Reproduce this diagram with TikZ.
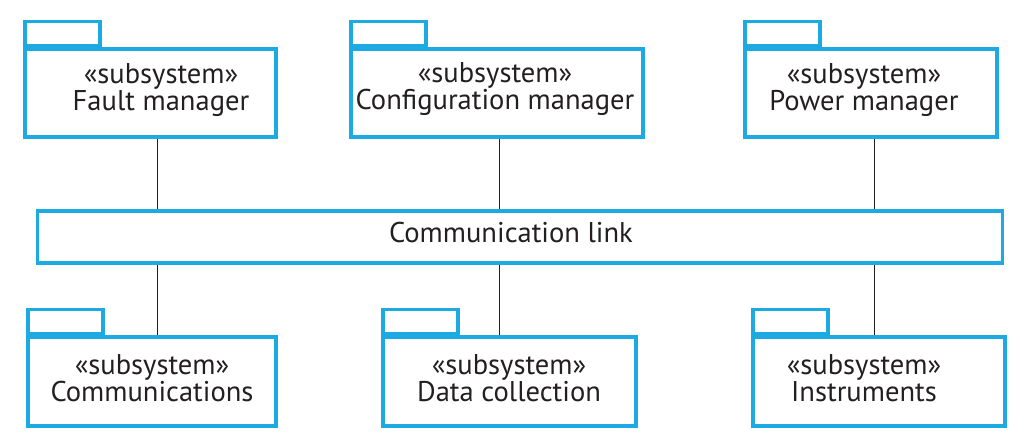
\documentclass[tikz,border=0pt]{standalone}
\usepackage{fontspec}
\setmainfont{PT Sans}
\definecolor{pkgblue}{RGB}{29,170,226}
\definecolor{ink}{RGB}{35,31,32}
\begin{document}
\begin{tikzpicture}[x=0.025cm,y=-0.025cm,
  pkg/.style={draw=pkgblue,line width=2.2pt,inner sep=0pt},
  tab/.style={draw=pkgblue,line width=2.2pt,inner sep=0pt,minimum width=1.875cm,minimum height=0.62cm,anchor=south west},
  lbl/.style={text=ink,font=\fontsize{20.3}{18.8}\selectfont,align=center,inner sep=0pt},
  wire/.style={draw=ink,line width=0.7pt}]
\useasboundingbox (0,0) rectangle (1028,442);

% top row
\node[pkg,minimum width=6.275cm,minimum height=2.2cm] (fault) at (150.5,93) {};
\node[tab] (faulttab) at (fault.north west) {};
\node[lbl] (faulttxt) at (161,90) {«subsystem»\\Fault manager};

\node[pkg,minimum width=7.3cm,minimum height=2.2cm] (config) at (497,93) {};
\node[tab] (configtab) at (config.north west) {};
\node[lbl] (configtxt) at (495,89) {«subsystem»\\Configuration manager};

\node[pkg,minimum width=6.3cm,minimum height=2.2cm] (power) at (871,93) {};
\node[tab] (powertab) at (power.north west) {};
\node[lbl] (powertxt) at (864,90) {«subsystem»\\Power manager};

% link
\node[pkg,minimum width=24.1cm,minimum height=1.3cm] (link) at (520,237) {};
\node[lbl] (linktxt) at (511,233) {Communication link};

% bottom row
\node[pkg,minimum width=6.2cm,minimum height=2.225cm] (comms) at (152,381.5) {};
\node[tab] (commstab) at (comms.north west) {};
\node[lbl] (commstxt) at (152,378) {«subsystem»\\Communications};

\node[pkg,minimum width=6.325cm,minimum height=2.225cm] (data) at (509.5,381.5) {};
\node[tab] (datatab) at (data.north west) {};
\node[lbl] (datatxt) at (509,378) {«subsystem»\\Data collection};

\node[pkg,minimum width=6.3cm,minimum height=2.225cm] (instr) at (879,381.5) {};
\node[tab] (instrtab) at (instr.north west) {};
\node[lbl] (instrtxt) at (864,378) {«subsystem»\\Instruments};

% connectors
\coordinate (c1) at (157,237);
\coordinate (c2) at (499,237);
\coordinate (c3) at (874,237);
\draw[wire] (fault.south -| c1) -- (link.north -| c1);
\draw[wire] (config.south -| c2) -- (link.north -| c2);
\draw[wire] (power.south -| c3) -- (link.north -| c3);
\draw[wire] (link.south -| c1) -- (comms.north -| c1);
\draw[wire] (link.south -| c2) -- (data.north -| c2);
\draw[wire] (link.south -| c3) -- (instr.north -| c3);
\end{tikzpicture}
\end{document}
